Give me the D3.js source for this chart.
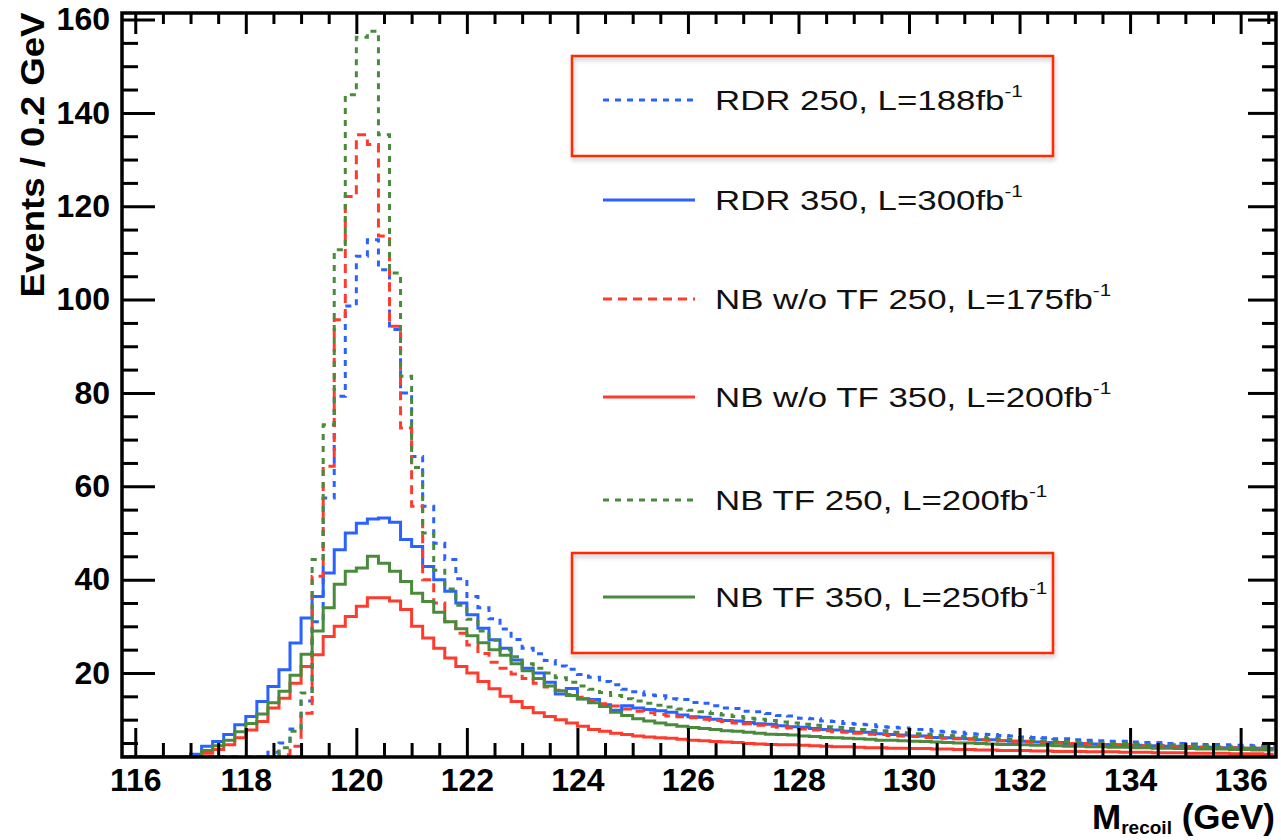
<!DOCTYPE html>
<html>
<head>
<meta charset="utf-8">
<script src="https://cdn.jsdelivr.net/npm/d3@7"></script>
<style>
  body { margin: 0; background: #fff; }
  svg text { font-family: "Liberation Sans", Arial, Helvetica, sans-serif; }
</style>
</head>
<body>
<div id="chart"></div>
<script>
// histogram binning: 0.2 GeV bins starting at 115.8 GeV
const binStart = 115.8;
const binWidth = 0.2;

// RDR 250, L=188fb-1 (blue dotted)
const rdr250 = [
  0.3, 0.3, 0.4, 0.4, 0.5, 0.6, 0.6, 0.7, 0.9, 1.0,
  1.2, 1.5, 1.9, 3.0, 5.0, 8.0, 14.0, 31.0, 57.5, 79.3,
  98.6, 109.3, 112.8, 106.4, 93.6, 80.0, 66.4, 55.7, 47.8, 44.3,
  40.2, 36.4, 34.0, 31.6, 29.4, 27.2, 25.3, 24.1, 22.7, 21.5,
  20.8, 19.7, 19.1, 18.2, 17.5, 16.5, 16.0, 15.3, 15.1, 14.5,
  14.3, 13.7, 13.5, 13.0, 12.5, 12.4, 11.8, 11.7, 11.3, 10.9,
  10.8, 10.3, 10.2, 9.7, 9.6, 9.2, 9.0, 8.9, 8.5, 8.4,
  8.2, 7.9, 7.9, 7.5, 7.4, 7.3, 7.0, 6.9, 6.8, 6.6,
  6.5, 6.3, 6.2, 6.1, 5.9, 5.9, 5.7, 5.6, 5.5, 5.4,
  5.4, 5.2, 5.1, 5.1, 4.9, 4.9, 4.8, 4.7, 4.7, 4.6,
  4.5, 4.5, 4.4, 4.4
];

// RDR 350, L=300fb-1 (blue solid)
const rdr350 = [
  0.3, 0.4, 0.6, 0.8, 1.1, 1.6, 2.6, 4.3, 5.3, 6.8,
  8.9, 10.7, 13.9, 17.1, 20.7, 26.4, 31.8, 36.4, 41.4, 46.4,
  50.0, 52.1, 53.0, 53.2, 52.3, 48.6, 47.1, 42.8, 40.0, 37.5,
  35.0, 32.5, 29.6, 27.1, 25.3, 22.8, 21.0, 20.0, 18.0, 15.5,
  16.7, 14.5, 14.3, 13.2, 12.0, 13.0, 12.5, 12.2, 11.9, 11.6,
  11.0, 10.6, 10.5, 10.1, 9.8, 9.7, 9.4, 9.1, 9.0, 8.7,
  8.5, 8.4, 8.1, 7.9, 7.8, 7.5, 7.3, 7.3, 7.0, 6.8,
  6.7, 6.5, 6.5, 6.2, 6.1, 6.0, 5.9, 5.7, 5.7, 5.5,
  5.4, 5.4, 5.2, 5.1, 5.1, 4.9, 4.9, 4.8, 4.7, 4.6,
  4.6, 4.5, 4.4, 4.4, 4.3, 4.3, 4.2, 4.1, 4.1, 4.0,
  4.0, 3.9, 3.9, 3.8
];

// NB w/o TF 250, L=175fb-1 (red dashed)
const nbNoTf250 = [
  0.2, 0.2, 0.3, 0.3, 0.3, 0.4, 0.5, 0.5, 0.6, 0.7,
  0.8, 1.0, 1.2, 1.5, 2.5, 4.3, 11.4, 40.7, 64.3, 95.7,
  122.1, 135.3, 133.2, 113.6, 94.3, 72.5, 55.7, 40.0, 35.0, 31.0,
  28.5, 26.0, 24.2, 22.3, 21.0, 19.8, 18.8, 17.8, 17.0, 16.3,
  15.4, 14.8, 14.1, 13.4, 12.9, 12.3, 11.8, 11.5, 11.1, 10.8,
  10.6, 10.4, 10.1, 9.8, 9.6, 9.3, 9.1, 8.8, 8.6, 8.4,
  8.2, 8.0, 7.8, 7.6, 7.4, 7.3, 7.1, 6.9, 6.8, 6.6,
  6.5, 6.4, 6.2, 6.1, 6.0, 5.9, 5.8, 5.7, 5.6, 5.5,
  5.4, 5.3, 5.2, 5.1, 5.0, 4.9, 4.9, 4.8, 4.7, 4.6,
  4.6, 4.5, 4.4, 4.4, 4.3, 4.2, 4.2, 4.1, 4.1, 4.0,
  4.0, 3.9, 3.9, 3.8
];

// NB w/o TF 350, L=200fb-1 (red solid)
const nbNoTf350 = [
  0.1, 0.2, 0.3, 0.4, 0.6, 0.9, 1.6, 2.8, 3.6, 4.6,
  6.1, 7.8, 9.6, 12.5, 14.6, 17.8, 21.4, 23.9, 27.8, 30.0,
  32.1, 34.3, 36.1, 36.1, 35.4, 33.6, 30.0, 27.5, 25.3, 23.2,
  21.4, 20.0, 18.2, 16.6, 15.0, 13.9, 12.6, 11.5, 10.7, 10.0,
  9.3, 8.6, 7.9, 7.5, 7.1, 6.8, 6.5, 6.3, 6.1, 6.0,
  5.8, 5.6, 5.5, 5.3, 5.2, 5.1, 4.9, 4.8, 4.7, 4.6,
  4.6, 4.5, 4.4, 4.3, 4.2, 4.2, 4.1, 4.0, 4.0, 3.9,
  3.9, 3.8, 3.8, 3.7, 3.7, 3.6, 3.6, 3.5, 3.5, 3.4,
  3.4, 3.4, 3.3, 3.3, 3.2, 3.2, 3.2, 3.1, 3.1, 3.1,
  3.0, 3.0, 3.0, 2.9, 2.9, 2.9, 2.8, 2.8, 2.8, 2.8,
  2.7, 2.7, 2.7, 2.6
];

// NB TF 250, L=200fb-1 (green dotted)
const nbTf250 = [
  0.2, 0.2, 0.3, 0.3, 0.4, 0.4, 0.5, 0.6, 0.7, 0.8,
  0.9, 1.1, 1.4, 2.0, 4.0, 7.5, 15.7, 44.3, 73.2, 110.7,
  143.9, 156.2, 157.5, 135.3, 105.7, 83.6, 64.0, 50.0, 42.0, 38.0,
  34.5, 31.5, 29.0, 27.0, 25.0, 23.5, 22.0, 21.0, 20.0, 19.0,
  18.0, 17.2, 16.5, 15.8, 15.2, 14.5, 14.0, 13.5, 13.1, 12.7,
  12.3, 12.0, 11.7, 11.3, 11.0, 10.7, 10.3, 10.1, 9.8, 9.5,
  9.3, 9.0, 8.8, 8.5, 8.4, 8.1, 7.9, 7.7, 7.6, 7.3,
  7.2, 7.0, 6.9, 6.7, 6.6, 6.4, 6.3, 6.2, 6.0, 5.9,
  5.8, 5.7, 5.6, 5.5, 5.4, 5.3, 5.2, 5.1, 5.0, 4.9,
  4.9, 4.8, 4.7, 4.6, 4.6, 4.5, 4.4, 4.4, 4.3, 4.2,
  4.2, 4.1, 4.1, 4.0
];

// NB TF 350, L=250fb-1 (green solid)
const nbTf350 = [
  0.2, 0.3, 0.4, 0.6, 0.9, 1.3, 2.1, 3.4, 4.4, 5.6,
  7.4, 9.2, 11.2, 13.6, 16.1, 19.5, 24.0, 29.0, 34.0, 39.0,
  41.8, 42.5, 45.0, 43.5, 41.8, 39.6, 37.1, 35.3, 33.0, 31.0,
  29.5, 28.0, 26.5, 25.0, 23.8, 22.0, 20.5, 18.8, 17.2, 16.2,
  15.2, 14.4, 13.6, 12.8, 11.6, 10.9, 10.2, 9.7, 9.3, 8.9,
  8.6, 8.3, 8.1, 7.9, 7.6, 7.5, 7.3, 7.1, 6.9, 6.8,
  6.7, 6.5, 6.4, 6.2, 6.1, 6.0, 5.9, 5.8, 5.6, 5.6,
  5.5, 5.4, 5.3, 5.2, 5.1, 5.0, 5.0, 4.9, 4.8, 4.7,
  4.7, 4.6, 4.5, 4.5, 4.4, 4.3, 4.3, 4.2, 4.2, 4.1,
  4.1, 4.0, 4.0, 3.9, 3.9, 3.8, 3.8, 3.7, 3.7, 3.7,
  3.6, 3.6, 3.5, 3.5
];

const seriesNames = ["RDR 250, L=188fb", "RDR 350, L=300fb", "NB w/o TF 250, L=175fb",
                     "NB w/o TF 350, L=200fb", "NB TF 250, L=200fb", "NB TF 350, L=250fb"];
const xTicks = [116, 118, 120, 122, 124, 126, 128, 130, 132, 134, 136];
const yTicks = [20, 40, 60, 80, 100, 120, 140, 160];

const allSeries = [rdr250, rdr350, nbNoTf250, nbNoTf350, nbTf250, nbTf350];
const lineStyles = [
  { color: "#2a62ff", dash: "6,6", width: 3 },
  { color: "#2a62ff", dash: null, width: 3 },
  { color: "#ff3b2e", dash: "9,6", width: 3 },
  { color: "#ff3b2e", dash: null, width: 3 },
  { color: "#4a8a3d", dash: "6,6", width: 3 },
  { color: "#4a8a3d", dash: null, width: 3 }
];

const W = 1281, H = 840;
const frame = { left: 122, right: 1276, top: 13, bottom: 757 };

const svg = d3.select("#chart").append("svg")
  .attr("width", W)
  .attr("height", H);

const defs = svg.append("defs");
defs.append("clipPath").attr("id", "plot-clip")
  .append("rect")
  .attr("x", frame.left).attr("y", frame.top)
  .attr("width", frame.right - frame.left)
  .attr("height", frame.bottom - frame.top);
defs.append("filter").attr("id", "box-shadow")
  .attr("x", "-5%").attr("y", "-10%").attr("width", "115%").attr("height", "130%")
  .append("feDropShadow")
  .attr("dx", 1).attr("dy", 3).attr("stdDeviation", 2)
  .attr("flood-color", "#000").attr("flood-opacity", 0.25);

const x = d3.scaleLinear().domain([115.76, 136.64]).range([frame.left, frame.right]);
const y = d3.scaleLinear().domain([2, 161.4]).range([frame.bottom, frame.top]).clamp(true);

// step outline for each histogram
function histPoints(values) {
  const pts = [];
  values.forEach((v, i) => {
    const lo = binStart + i * binWidth;
    pts.push([lo, v], [lo + binWidth, v]);
  });
  return pts;
}

const line = d3.line()
  .x(d => x(d[0]))
  .y(d => y(d[1]));

const plot = svg.append("g").attr("clip-path", "url(#plot-clip)");

allSeries.forEach((values, i) => {
  plot.append("path")
    .attr("d", line(histPoints(values)))
    .attr("fill", "none")
    .attr("stroke", lineStyles[i].color)
    .attr("stroke-width", lineStyles[i].width)
    .attr("stroke-dasharray", lineStyles[i].dash)
    .attr("stroke-linejoin", "miter");
});

// axes (ROOT style: ticks inside the frame, mirrored on top and right)
const minorX = d3.range(116, 136.6, 0.5).filter(v => Math.abs(v / 2 - Math.round(v / 2)) > 1e-6);
const minorY = d3.range(5, 161, 5).filter(v => v % 20 !== 0);

function styleAxis(g) {
  g.select(".domain").remove();
  g.selectAll(".tick line").attr("stroke", "#000").attr("stroke-width", 3);
}

svg.append("g")
  .attr("transform", `translate(0,${frame.bottom})`)
  .call(d3.axisBottom(x).tickValues(xTicks).tickSizeInner(-29).tickSizeOuter(0).tickPadding(11).tickFormat(d3.format("d")))
  .call(styleAxis)
  .call(g => g.selectAll("text")
    .attr("font-size", 32).attr("font-weight", "bold").attr("fill", "#000")
    .attr("font-family", "Liberation Sans, Arial, sans-serif"));

svg.append("g")
  .attr("transform", `translate(0,${frame.bottom})`)
  .call(d3.axisBottom(x).tickValues(minorX).tickSize(-14).tickFormat(""))
  .call(styleAxis);

svg.append("g")
  .attr("transform", `translate(0,${frame.top})`)
  .call(d3.axisTop(x).tickValues(xTicks).tickSize(-21).tickFormat(""))
  .call(styleAxis);

svg.append("g")
  .attr("transform", `translate(0,${frame.top})`)
  .call(d3.axisTop(x).tickValues(minorX).tickSize(-11).tickFormat(""))
  .call(styleAxis);

svg.append("g")
  .attr("transform", `translate(${frame.left},0)`)
  .call(d3.axisLeft(y).tickValues(yTicks).tickSizeInner(-33).tickSizeOuter(0).tickPadding(12).tickFormat(d3.format("d")))
  .call(styleAxis)
  .call(g => g.selectAll("text")
    .attr("font-size", 32).attr("font-weight", "bold").attr("fill", "#000")
    .attr("font-family", "Liberation Sans, Arial, sans-serif"));

svg.append("g")
  .attr("transform", `translate(${frame.left},0)`)
  .call(d3.axisLeft(y).tickValues(minorY).tickSize(-16).tickFormat(""))
  .call(styleAxis);

svg.append("g")
  .attr("transform", `translate(${frame.right},0)`)
  .call(d3.axisRight(y).tickValues(yTicks).tickSize(-28).tickFormat(""))
  .call(styleAxis);

svg.append("g")
  .attr("transform", `translate(${frame.right},0)`)
  .call(d3.axisRight(y).tickValues(minorY).tickSize(-14).tickFormat(""))
  .call(styleAxis);

// frame
svg.append("rect")
  .attr("x", frame.left).attr("y", frame.top)
  .attr("width", frame.right - frame.left)
  .attr("height", frame.bottom - frame.top)
  .attr("fill", "none")
  .attr("stroke", "#000")
  .attr("stroke-width", 3.5);

// axis titles
svg.append("text")
  .attr("transform", "translate(44,155) rotate(-90)")
  .attr("text-anchor", "middle")
  .attr("font-size", 33)
  .attr("font-weight", "bold")
  .attr("textLength", 285)
  .attr("lengthAdjust", "spacingAndGlyphs")
  .text("Events / 0.2 GeV");

const xTitle = svg.append("text")
  .attr("x", 1275)
  .attr("y", 829)
  .attr("text-anchor", "end")
  .attr("font-weight", "bold");
xTitle.append("tspan").attr("font-size", 35).text("M");
xTitle.append("tspan").attr("font-size", 19).attr("dy", 5).text("recoil");
xTitle.append("tspan").attr("font-size", 35).attr("dy", -5).text(" (GeV)");

// legend
const legendRows = [100, 200, 299, 397, 500, 597];
const legend = svg.append("g");

seriesNames.forEach((name, i) => {
  const ly = legendRows[i];
  legend.append("line")
    .attr("x1", 603).attr("x2", 695)
    .attr("y1", ly).attr("y2", ly)
    .attr("stroke", lineStyles[i].color)
    .attr("stroke-width", lineStyles[i].width)
    .attr("stroke-dasharray", lineStyles[i].dash);
  const t = legend.append("text")
    .attr("transform", `translate(715,${ly + 10}) scale(1.29,1)`)
    .attr("font-size", 27)
    .attr("fill", "#111");
  t.append("tspan").text(name);
  t.append("tspan").attr("font-size", 16).attr("dy", -13).text("-1");
});

// highlighted legend entries
[[56, 156], [553, 653]].forEach(([top, bottom]) => {
  svg.append("rect")
    .attr("x", 572).attr("y", top)
    .attr("width", 1053 - 572).attr("height", bottom - top)
    .attr("fill", "none")
    .attr("stroke", "#ff2a00")
    .attr("stroke-width", 2.5)
    .attr("filter", "url(#box-shadow)");
});
</script>
</body>
</html>
